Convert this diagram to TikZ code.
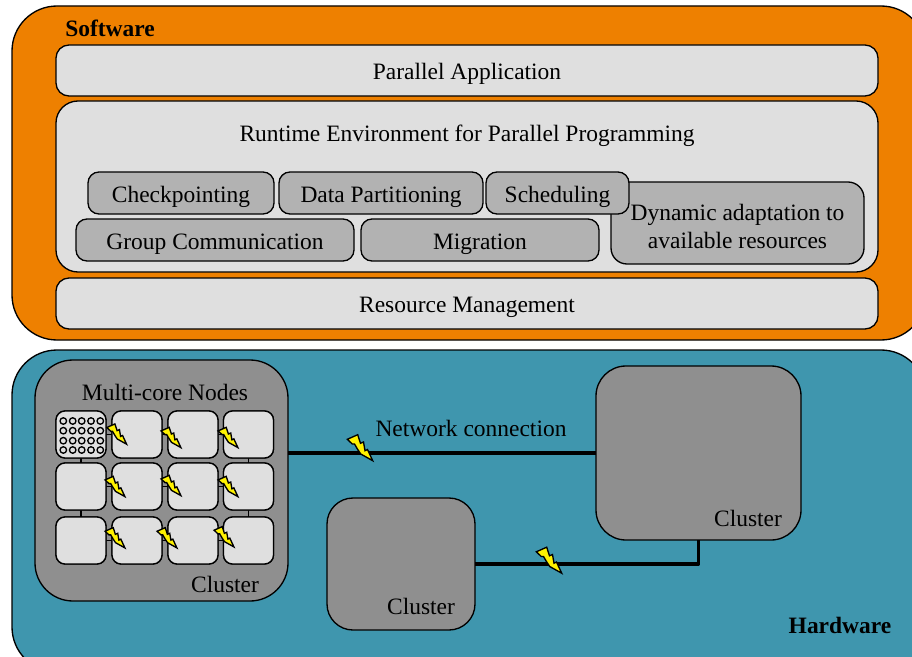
\documentclass[tikz,border=0pt]{standalone}
\usepackage{fontspec}
\setmainfont{Liberation Serif}
\def\px{0.75pt}
\definecolor{softorange}{HTML}{EE8000}
\definecolor{hardteal}{HTML}{3F96AE}
\definecolor{lightbox}{HTML}{DFDFDF}
\definecolor{midbox}{HTML}{B2B2B2}
\definecolor{darkbox}{HTML}{8F8F8F}
\tikzset{
    sized/.style 2 args={minimum width=#1*\px, minimum height=#2*\px},
    layer/.style={draw=black, line width=1pt, inner sep=0pt, outer sep=0pt, rounded corners=#1*\px},
    lightlayer/.style={layer=13, fill=lightbox},
    module/.style={layer=11, fill=midbox},
    cluster/.style={layer=#1, fill=darkbox},
    core/.style={layer=9, fill=lightbox, line width=1pt, sized={50}{47}},
    pin/.style={draw=black, line width=1pt},
    netline/.style={draw=black, line width=2.6pt, line join=round},
    pe/.style={circle, draw=black, line width=1pt, inner sep=0pt, minimum size=6.5*\px},
    label/.style={inner sep=0pt, align=center, font=\fontsize{17.6pt}{21pt}\selectfont},
    boxtext/.style={inner sep=0pt, font=\fontsize{17.6pt}{21pt}\selectfont, text height=14pt, text depth=0pt},
    title/.style={label, font=\fontsize{17.6pt}{21pt}\selectfont\bfseries},
    pics/bolt/.style={code={
        \draw[fill=yellow, draw=black, line width=1pt, line join=miter, scale=#1]
            (-12.7,-8.7) -- (-2.3,-13.3) -- (0.5,-4.7) -- (3.5,-6) -- (5,2.7) -- (7.5,1.5) -- (12.7,12.7)
            -- (0.7,6) -- (-2.3,1.5) -- (-5.5,-4) -- (-7.7,-4) -- cycle;
    }},
}
\begin{document}
\begin{tikzpicture}[x=\px, y=-\px]
    \useasboundingbox (0, 0) rectangle (912, 656);

    \node[layer=45, fill=softorange, sized={914}{334}] (software) at (469, 173) {};
    \node[layer=45, fill=hardteal, sized={914}{322}] (hardware) at (469, 511) {};
    \node[title] (softwarelabel) at (110, 28) {Software};
    \node[title] (hardwarelabel) at (840, 625) {Hardware};

    \node[lightlayer, boxtext, sized={822}{51}] (application) at (467, 70.5) {Parallel Application};
    \node[lightlayer, layer=22, fill=lightbox, sized={822}{171}] (runtime) at (467, 186.5) {};
    \node[lightlayer, boxtext, sized={822}{51}] (resources) at (467, 303.5) {Resource Management};
    \node[label] (runtimelabel) at (467, 136) {Runtime Environment for Parallel Programming};

    \node[module, layer=16, sized={253}{82}] (dynamic) at (737.5, 223) {};
    \node[label] (dynamiclabel) at (737.5, 226) {Dynamic adaptation to\\available resources};
    \node[module, boxtext, sized={186}{42}] (checkpointing) at (181, 193) {Checkpointing};
    \node[module, boxtext, sized={204}{42}] (partitioning) at (381, 193) {Data Partitioning};
    \node[module, boxtext, sized={143}{42}] (scheduling) at (557.5, 193) {Scheduling};
    \node[module, boxtext, sized={278}{42}] (groupcomm) at (215, 240) {Group Communication};
    \node[module, boxtext, sized={238}{42}] (migration) at (480, 240) {Migration};

    \node[cluster=38, sized={253}{241}] (clusterA) at (161.5, 480.5) {};
    \node[cluster=30, sized={205}{174}] (clusterB) at (698.5, 453) {};
    \node[cluster=26, sized={148}{132}] (clusterC) at (401, 564) {};
    \node[label] (coreslabel) at (165, 392) {Multi-core Nodes};
    \node[label] (clusterAlabel) at (225, 584) {Cluster};
    \node[label] (clusterBlabel) at (748, 518) {Cluster};
    \node[label] (clusterClabel) at (421, 606.5) {Cluster};
    \node[label] (netlabel) at (471, 428.5) {Network connection};

    \draw[netline] (clusterA.east |- clusterB.west) -- (clusterB.west);
    \draw[netline] (clusterC.east) -| (clusterB.south);

    \foreach \r/\y in {1/434.5, 2/486.5, 3/540.5}
        \foreach \c/\x in {1/81, 2/137, 3/193, 4/248.5}
            \node[core] (core\r\c) at (\x, \y) {};
    \foreach \r in {1, 2, 3}
        \foreach \c/\d in {1/2, 2/3, 3/4}
            \draw[pin] (core\r\c) -- (core\r\d);
    \foreach \c in {1, 4} {
        \draw[pin] (core1\c) -- (core2\c);
        \draw[pin] (core2\c) -- (core3\c);
    }
    \foreach \r in {1, 2, 3}
        \foreach \c in {1, 2, 3, 4}
            \node[core] at (core\r\c) {};

    \foreach \y [count=\j] in {421, 430.7, 440.7, 450}
        \foreach \x [count=\i] in {63.3, 72.7, 81.7, 91, 100.3}
            \node[pe] (pe\j\i) at (\x, \y) {};

    \foreach \x/\y in {116.7/434.3, 171/437.7, 228/437.7, 115/486.7, 171/485.7, 228/486.7, 115/538, 167/538, 224/537}
        \pic at (\x, \y) {bolt=0.78};
    \pic at (360, 448) {bolt=1};
    \pic at (549, 560.5) {bolt=1};
\end{tikzpicture}
\end{document}
